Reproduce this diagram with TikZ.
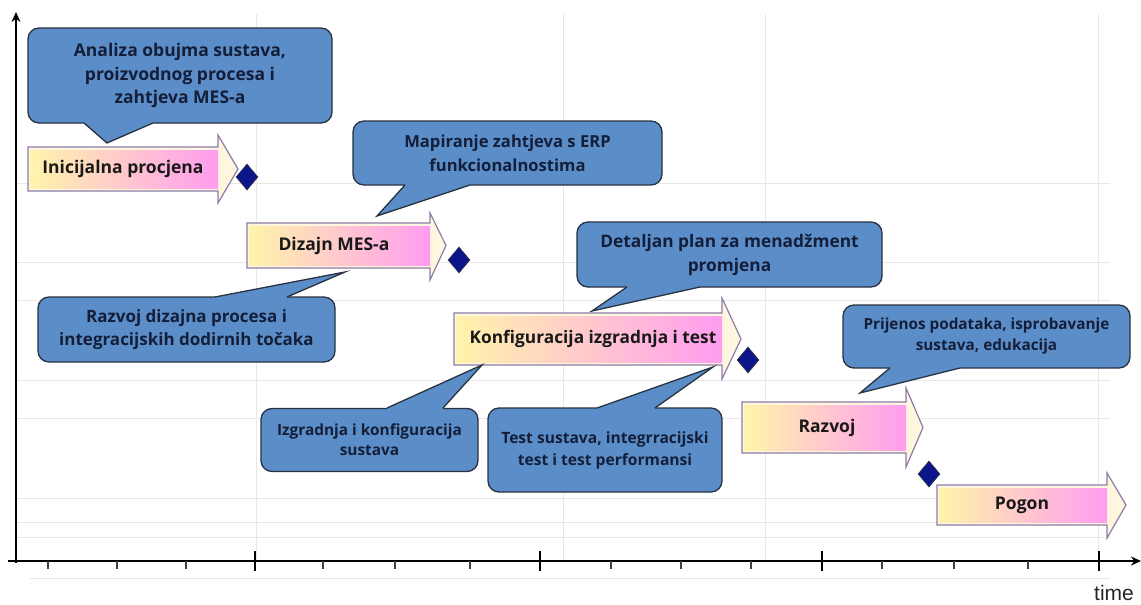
\documentclass[tikz,border=0pt]{standalone}
\usepackage{fontspec}
\setmainfont{Open Sans}
\newfontfamily\timefont{Liberation Sans}
\usetikzlibrary{arrows.meta,shapes.geometric}

\definecolor{cfill}{RGB}{91,142,201}
\definecolor{cborder}{RGB}{40,50,64}
\definecolor{ctext}{RGB}{20,30,56}
\definecolor{abord}{RGB}{140,124,168}
\definecolor{ahead}{RGB}{255,246,224}
\definecolor{gy}{RGB}{255,244,170}
\definecolor{gp}{RGB}{255,156,240}
\definecolor{mscol}{RGB}{12,22,138}
\definecolor{gridc}{RGB}{232,232,232}

\newcommand\cfont[2]{\bfseries\fontsize{#1}{#2}\selectfont}
% L T B H HT HB X
\newcommand\blockarrow[7]{%
  \filldraw[arrowshape] (#1,#2) -- (#4,#2) -- (#4,#5) -- (#7,{(#2+#3)/2}) -- (#4,#6) -- (#4,#3) -- (#1,#3) -- cycle;
  \shade[left color=gy, right color=gp] (#1+2,#2+3) rectangle (#4,#3-3);
}
% ax ay tx ty bx by inward
\newcommand\callptr[7]{%
  \fill[cfill] (#1,#2+#7) -- (#1,#2) -- (#3,#4) -- (#5,#6) -- (#5,#6+#7) -- cycle;
  \draw[ptrline] (#1,#2) -- (#3,#4) -- (#5,#6);
}

\begin{document}
\begin{tikzpicture}[x=1pt,y=-1pt,
  callbox/.style={draw=cborder, line width=1.3pt, fill=cfill, rounded corners=11pt,
    inner sep=0pt, align=center, text=ctext},
  ptrline/.style={draw=cborder, line width=1.3pt, line join=miter},
  arrowshape/.style={fill=ahead, draw=abord, line width=1.2pt, line join=miter},
  arrowlabel/.style={text=black!90, font=\cfont{17.5}{20}, inner sep=0pt},
  milestone/.style={diamond, fill=mscol, draw=black!80, line width=0.6pt, inner sep=0pt,
    minimum width=22pt, minimum height=26pt},
  gridline/.style={draw=gridc, line width=1pt},
  axisline/.style={draw=black, line width=2.8pt, -{Stealth[length=10pt,width=9pt]}},
  majortick/.style={draw=black, line width=2.8pt},
  minortick/.style={draw=black!75, line width=1.3pt}
]
\useasboundingbox[fill=white] (0,0) rectangle (1141,605);

% grid
\foreach \y in {183,262,300,380,418,498,522,537}
  \draw[gridline] (16,\y) -- (1110,\y);
\draw[gridline] (30,578) -- (1110,578);
\foreach \x in {256,563,765,1098}
  \draw[gridline] (\x,14) -- (\x,561);

% axes
\coordinate (ybot) at (16,563);
\coordinate (ytop) at (16,12);
\coordinate (xstart) at (8,561);
\coordinate (xend) at (1141,561);
\draw[axisline] (ybot) -- (ytop);
\draw[axisline] (xstart) -- (xend);
\foreach \x in {255,540,822,1099}
  \draw[majortick] (\x,551) -- (\x,571);
\foreach \x in {48,117,186,323,395,470,611,681,751,882,954,1028}
  \draw[minortick] (\x,561) -- (\x,569);
\node[font=\timefont\fontsize{21}{21}\selectfont, text=black!85, anchor=base, inner sep=0pt] (timelbl) at (1114,600) {time};

% block arrows
\blockarrow{28}{147}{191}{218}{135}{203}{238}
\node[arrowlabel] (a1) at (123,169) {Inicijalna procjena};
\blockarrow{247}{223}{268}{430}{213}{280}{446}
\node[arrowlabel] (a2) at (334,246) {Dizajn MES-a};
\blockarrow{454}{313}{365}{722}{298}{379}{741}
\node[arrowlabel, font=\cfont{17.3}{20}] (a3) at (593,339) {Konfiguracija izgradnja i test};
\blockarrow{742}{402}{453}{906}{388}{467}{923}
\node[arrowlabel] (a4) at (827,428) {Razvoj};
\blockarrow{937}{485}{525}{1107}{473}{538}{1126}
\node[arrowlabel] (a5) at (1022,505) {Pogon};

% milestones
\node[milestone] (m1) at (247,177) {};
\node[milestone] (m2) at (459,260) {};
\node[milestone] (m3) at (748,360) {};
\node[milestone] (m4) at (929,474) {};

% callouts
\node[callbox, minimum width=304pt, minimum height=95pt, font=\cfont{17.5}{23.5}] (c1) at (180,75.5)
  {Analiza obujma sustava,\\proizvodnog procesa i\\zahtjeva MES-a};
\callptr{84}{123}{107}{143}{153}{123}{-2.5}

\node[callbox, minimum width=309pt, minimum height=64pt, font=\cfont{16.6}{24}] (c2) at (507.5,153)
  {Mapiranje zahtjeva s ERP\\funkcionalnostima};
\callptr{405}{185}{377}{216}{470}{185}{-2.5}

\node[callbox, minimum width=297pt, minimum height=65pt, font=\cfont{17}{23}] (c3) at (186.5,329.5)
  {Razvoj dizajna procesa i\\integracijskih dodirnih točaka};
\callptr{215}{297}{345}{272}{287}{297}{2.5}

\node[callbox, minimum width=305pt, minimum height=65pt, font=\cfont{17.3}{24}] (c4) at (729.5,254.5)
  {Detaljan plan za menadžment\\promjena};
\callptr{627}{287}{592}{311}{700}{287}{-2.5}

\node[callbox, minimum width=217pt, minimum height=63pt, font=\cfont{15.4}{20}] (c5) at (369.5,440)
  {Izgradnja i konfiguracija\\sustava};
\callptr{387}{408}{482}{365}{443}{408}{2.5}

\node[callbox, minimum width=234pt, minimum height=84pt, font=\cfont{15.6}{22}] (c6) at (605,450)
  {Test sustava, integrracijski\\test i test performansi};
\callptr{597}{408}{713}{367}{655}{408}{2.5}

\node[callbox, minimum width=287pt, minimum height=63pt, font=\cfont{15.3}{21}] (c7) at (986.5,336.5)
  {Prijenos podataka, isprobavanje\\sustava, edukacija};
\callptr{890}{368}{860}{393}{960}{368}{-2.5}

\end{tikzpicture}
\end{document}
